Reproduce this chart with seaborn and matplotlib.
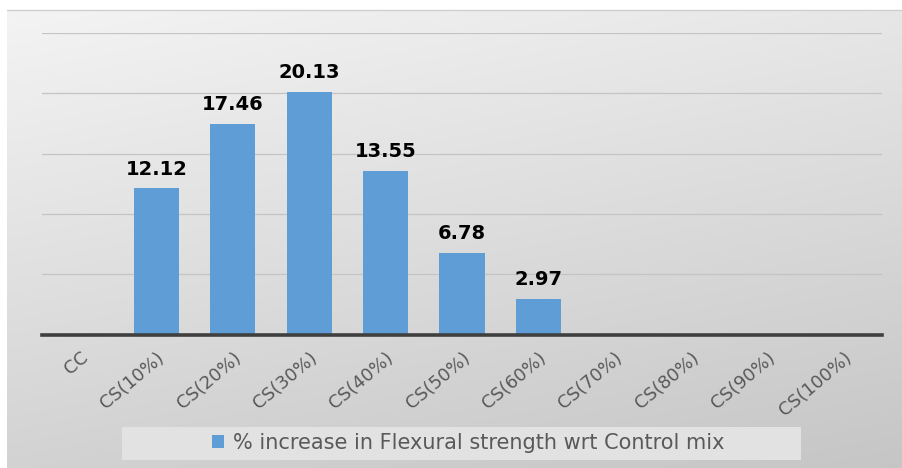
import numpy as np
import pandas as pd
import matplotlib
matplotlib.use("Agg")
import matplotlib.pyplot as plt
import seaborn as sns
from matplotlib.patches import Patch, Rectangle

categories = ["CC", "CS(10%)", "CS(20%)", "CS(30%)", "CS(40%)", "CS(50%)",
              "CS(60%)", "CS(70%)", "CS(80%)", "CS(90%)", "CS(100%)"]
values = [0, 12.12, 17.46, 20.13, 13.55, 6.78, 2.97, 0, 0, 0, 0]
series_name = "% increase in Flexural strength wrt Control mix"
gridlines = [5, 10, 15, 20, 25]

sns.set_theme(style="white")
plt.rcParams['font.family'] = ['DejaVu Sans']

W, H = 902, 468
fig = plt.figure(figsize=(W / 100, H / 100), dpi=100)
fig.patch.set_facecolor("white")

# gradient background frame
bg = fig.add_axes([7 / W, 0, (W - 7) / W, (H - 10) / H], zorder=-10)
yy, xx = np.mgrid[0:1:200j, 0:1:300j]
shade = 0.955 - 0.13 * yy - 0.05 * xx
bg.imshow(np.dstack([shade, shade, shade]), aspect="auto", extent=[0, 1, 0, 1],
          interpolation="bilinear")
bg.axis("off")
fig.add_artist(plt.Line2D([7 / W, 1], [(H - 10) / H, (H - 10) / H],
                          transform=fig.transFigure, color="#cfcfcf", lw=1))

# legend background box
fig.add_artist(Rectangle((122 / W, 1 - 460 / H), (801 - 122) / W, 33 / H,
                         transform=fig.transFigure, facecolor="#e2e2e2",
                         edgecolor="none", zorder=1))

ax = fig.add_axes([42 / W, 1 - 334.5 / H, (882 - 42) / W, (334.5 - 33) / H])
ax.patch.set_alpha(0)

df = pd.DataFrame({"cat": categories, "val": values})
sns.barplot(data=df, x="cat", y="val", color="#5E9DD6", saturation=1,
            width=0.59, ax=ax, zorder=3, linewidth=0)

ax.set_ylim(0, 25)
ax.set_yticks(gridlines)
ax.set_yticklabels([])
ax.yaxis.grid(True, color="#c4c4c4", lw=0.9)
ax.set_axisbelow(True)
ax.set_xlabel("")
ax.set_ylabel("")
for s in ["top", "left", "right"]:
    ax.spines[s].set_visible(False)
ax.spines["bottom"].set_color("#3f3f3f")
ax.spines["bottom"].set_linewidth(2.6)
ax.spines["bottom"].set_zorder(5)
ax.tick_params(axis="both", length=0)
ax.tick_params(axis="x", pad=10)
for lbl in ax.get_xticklabels():
    lbl.set_rotation(40)
    lbl.set_ha("right")
    lbl.set_va("top")
    lbl.set_rotation_mode("anchor")
    lbl.set_color("#595959")
    lbl.set_fontsize(13)

for i, v in enumerate(values):
    if v > 0:
        ax.annotate(f"{v:.2f}", (i, v), xytext=(0, 7), textcoords="offset points",
                    ha="center", va="bottom", fontsize=14, fontweight="bold",
                    color="black", zorder=6)

fig.legend(handles=[Patch(facecolor="#5E9DD6", edgecolor="none", label=series_name)],
           loc="center", bbox_to_anchor=(468 / W, 1 - 443 / H), frameon=False,
           fontsize=15, handlelength=0.6, handleheight=0.6, handletextpad=0.4,
           labelcolor="#595959")

fig.savefig("out.png", dpi=100)
